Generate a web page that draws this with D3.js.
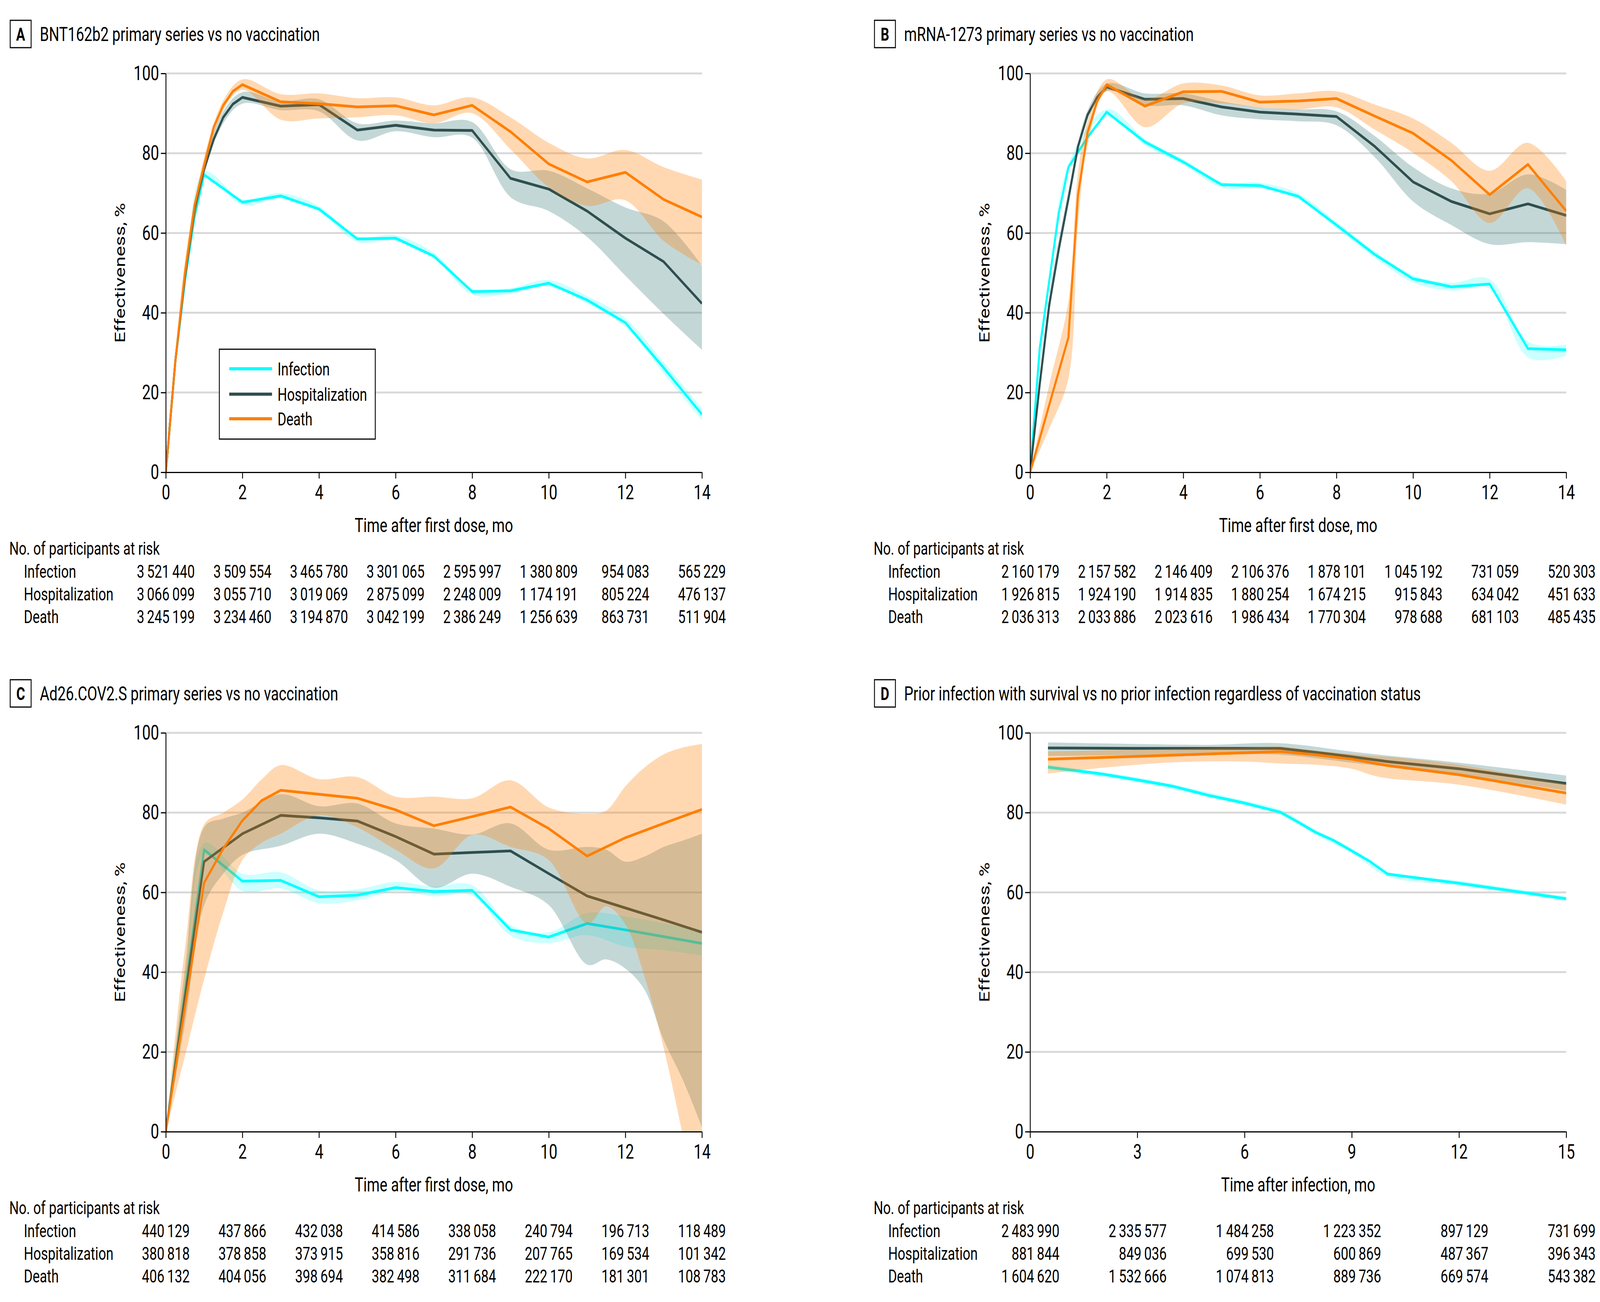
<!DOCTYPE html>
<html>
<head>
<meta charset="utf-8">
<script src="https://cdn.jsdelivr.net/npm/d3@7"></script>
<style>
html, body { margin: 0; padding: 0; background: #fff; overflow: hidden; }
#chart { display: block; width: 100vw; height: 100vh; }
svg text { font-family: Roboto, "Liberation Sans", sans-serif; fill: #000; }
</style>
</head>
<body>
<svg id="chart" viewBox="0 0 5500 3333" preserveAspectRatio="none"></svg>
<script>
// ---- data: lines are [month, estimate], bands are [month, lower, upper] ----
const seriesNames = ["Infection", "Hospitalization", "Death"];
const yTicks = [0, 20, 40, 60, 80, 100];

// A  BNT162b2
const aInfLine = [[0,0],[0.25,28],[0.5,48],[0.75,64],[1,74.6],[2,67.7],[3,69.3],[4,66],[5,58.5],[6,58.7],[7,54.2],[8,45.3],[9,45.5],[10,47.4],[11,43.2],[12,37.5],[13,26.2],[14,14.5]];
const aInfBand = [[0,0,0],[0.5,47,49],[1,74,75.3],[2,67,68.4],[3,68.6,70],[4,65.3,66.7],[5,57.8,59.2],[6,58,59.4],[7,53.5,55],[8,44.6,46],[9,44.8,46.2],[10,46.6,48.2],[11,42.3,44.2],[12,36.4,38.6],[13,24.8,27.6],[14,13,16]];
const aHospLine = [[0,0],[0.25,28],[0.5,49],[0.75,66],[1,76],[1.25,83.5],[1.5,89],[1.75,92.3],[2,94],[3,91.8],[4,92.2],[5,85.8],[6,87],[7,85.8],[8,85.7],[9,73.7],[10,71],[11,65.5],[12,58.7],[13,52.8],[14,42.3]];
const aHospBand = [[0,0,0],[0.5,47,51],[1,74.5,77.5],[1.5,87.5,90.5],[2,92.4,95.3],[3,90.8,93],[4,90.5,93.5],[5,83.2,87.5],[6,85.5,88.2],[7,84,87.5],[8,83.9,87.8],[9,69,76],[10,65.5,75.6],[11,59,71.2],[12,49.3,66.4],[13,39.7,62.9],[14,30.7,51.8]];
const aDeathLine = [[0,0],[0.25,28],[0.5,50],[0.75,67],[1,77],[1.25,86.5],[1.5,92],[1.75,95.5],[2,97.2],[3,92.9],[4,92.4],[5,91.6],[6,91.9],[7,89.6],[8,92],[9,85.4],[10,77.3],[11,72.8],[12,75.2],[13,68.4],[14,64]];
const aDeathBand = [[0,0,0],[0.5,47,53],[1,75,79],[1.5,90.8,93.2],[2,95.9,98.5],[3,88.4,94.8],[4,88.7,95],[5,89,93.8],[6,89.5,94],[7,87.5,92],[8,90,94],[9,81,89],[10,71.5,82.6],[11,66.8,78.7],[12,68.2,80.8],[13,58,76.5],[14,52,73.4]];

// B  mRNA-1273
const bInfLine = [[0,0],[0.25,31],[0.5,48],[0.75,65],[1,76.5],[1.5,84],[2,90.3],[3,82.8],[4,77.8],[5,72.1],[6,71.9],[7,69.2],[8,62],[9,54.6],[10,48.5],[11,46.5],[12,47.2],[13,31],[14,30.7]];
const bInfBand = [[0,0,0],[0.5,47,49],[1,75.8,77.2],[2,89.6,91],[3,82,83.6],[4,77.1,78.5],[5,71.4,72.8],[6,71.2,72.6],[7,68.5,69.9],[8,61.2,62.8],[9,53.8,55.4],[10,47.6,49.4],[11,45.5,47.5],[12,46,48.4],[13,28.8,32.8],[14,29.2,32]];
const bHospLine = [[0,0],[0.25,22],[0.5,42],[0.75,56],[1,68.6],[1.25,81.7],[1.5,89.6],[1.75,94],[2,96.6],[3,93.5],[4,93.7],[5,91.6],[6,90.3],[7,89.8],[8,89.2],[9,81.7],[10,72.8],[11,67.9],[12,64.8],[13,67.3],[14,64.4]];
const bHospBand = [[0,0,0],[0.5,40,44],[1,67,70.2],[1.5,88.5,90.7],[2,95.6,97.4],[3,92,95],[4,92,95],[5,89.5,93],[6,88.5,91.5],[7,88,91],[8,87,90.5],[9,79,84.3],[10,67.9,76.5],[11,62,71.2],[12,57.2,69.9],[13,57.7,74.7],[14,57.2,70.8]];
const bDeathLine = [[0,0],[1,33.8],[1.25,69.5],[1.5,85.2],[1.75,93],[2,97.2],[3,91.8],[4,95.4],[5,95.5],[6,92.8],[7,93.1],[8,93.7],[9,89.3],[10,85],[11,78.2],[12,69.6],[13,77.2],[14,65.5]];
const bDeathBand = [[0,0,0],[0.5,11,22],[1,23.5,43],[1.25,62,75],[1.5,82,88],[2,95.5,98.5],[3,86.5,93.5],[4,92.5,97.5],[5,92.5,97],[6,91.5,94.5],[7,91,95],[8,91.5,95.5],[9,85.9,92.2],[10,80.1,88.7],[11,73,82.6],[12,62.5,75.6],[13,71.2,82.6],[14,56.8,73]];

// C  Ad26.COV2.S
const cInfLine = [[0,0],[0.5,35.4],[1,70.7],[2,62.8],[3,63],[4,58.9],[5,59.3],[6,61.2],[7,60.2],[8,60.5],[9,50.6],[10,48.8],[11,52.2],[12,50.6],[13,48.9],[14,47.2]];
const cInfBand = [[0,0,0],[0.5,34.2,36.8],[1,69.4,72.3],[2,60.4,64.7],[3,61,65],[4,57.3,60.5],[5,58,60.8],[6,60.3,62.6],[7,59,61.5],[8,59.2,61.8],[9,49.2,51.8],[10,47.3,50],[11,49.3,54.8],[12,46.4,54],[13,45.5,52.2],[14,44.2,50.3]];
const cHospLine = [[0,0],[1,67.7],[2,74.7],[3,79.3],[4,78.7],[5,77.9],[6,74],[7,69.6],[8,70],[9,70.4],[10,64.7],[11,59.1],[12,56.1],[13,53.1],[14,50]];
const cHospBand = [[0,0,0],[0.5,27,41],[1,56.8,76.3],[1.5,64.7,78.5],[2,69.4,80],[3,71.7,84.6],[4,74.7,81.6],[5,72.2,82.3],[6,68.1,77.3],[7,61.2,76],[8,64.7,74.5],[9,61.4,77.3],[10,56.8,70.7],[11,41.9,71.4],[11.5,43.2,70.7],[12,40.9,67.7],[12.5,35.6,69],[13,23,71.4],[13.5,13,73],[14,1.1,74.7]];
const cDeathLine = [[0,0],[1,62.4],[1.5,71],[2,78],[2.5,83],[3,85.6],[4,84.6],[5,83.6],[6,80.7],[7,76.7],[8,79],[9,81.4],[10,76],[11,69.1],[12,73.7],[13,77.3],[14,80.8]];
const cDeathBand = [[0,0,0],[0.5,19,46],[1,38.2,77],[1.5,55,80],[2,68.1,83.3],[2.5,72.4,88.3],[3,74.7,91.9],[4,79.3,88.4],[5,76.3,88.9],[6,70.7,84],[7,66,84],[8,74.4,83.6],[9,71.4,88.1],[10,68.1,81.3],[11,52.2,79.7],[11.5,56.5,80.5],[12,52,86.6],[12.5,38.9,91.3],[13,21,94.6],[13.5,-1,96.3],[14,-25,97.2]];

// D  Prior infection
const dInfLine = [[0.5,91.4],[2,89.7],[3,88.2],[4,86.6],[5,84.3],[6,82.4],[7,80.1],[7.5,77.6],[8,75],[8.5,73],[9,70.4],[9.5,67.8],[10,64.6],[12,62.3],[15,58.4]];
const dInfBand = [[0.5,90.8,92],[3,87.6,88.8],[6,81.8,83],[7,79.5,80.7],[8,74.4,75.6],[9,69.8,71],[10,64,65.2],[12,61.7,62.9],[15,57.8,59]];
const dHospLine = [[0.5,96.2],[3,96.1],[5,96.1],[7,96.1],[8,95.1],[9,94],[10,92.8],[12,91],[15,87.3]];
const dHospBand = [[0.5,94.2,97.6],[3,94.4,97.2],[5,94.5,97],[7,94.5,97.4],[9,92.5,95.3],[10,91.5,94.3],[12,89.5,92.5],[15,85.5,89.3]];
const dDeathLine = [[0.5,93.4],[3,94.1],[5,94.7],[7,95.3],[8,94.5],[9,93.4],[10,91.8],[12,89.5],[15,84.9]];
const dDeathBand = [[0.5,89.8,95.3],[2,91.2,95.6],[4,92.6,96],[6,92.8,96.3],[7,92.3,96.5],[8,92,95.5],[9,91,94.7],[9.6,89.3,94.2],[10,88.6,94],[12,87,92],[15,82,87.2]];

// numbers at risk
const aRiskMonths = [0, 2, 4, 6, 8, 10, 12, 14];
const aRiskInf = [3521440, 3509554, 3465780, 3301065, 2595997, 1380809, 954083, 565229];
const aRiskHosp = [3066099, 3055710, 3019069, 2875099, 2248009, 1174191, 805224, 476137];
const aRiskDeath = [3245199, 3234460, 3194870, 3042199, 2386249, 1256639, 863731, 511904];
const bRiskInf = [2160179, 2157582, 2146409, 2106376, 1878101, 1045192, 731059, 520303];
const bRiskHosp = [1926815, 1924190, 1914835, 1880254, 1674215, 915843, 634042, 451633];
const bRiskDeath = [2036313, 2033886, 2023616, 1986434, 1770304, 978688, 681103, 485435];
const cRiskInf = [440129, 437866, 432038, 414586, 338058, 240794, 196713, 118489];
const cRiskHosp = [380818, 378858, 373915, 358816, 291736, 207765, 169534, 101342];
const cRiskDeath = [406132, 404056, 398694, 382498, 311684, 222170, 181301, 108783];
const dRiskMonths = [0, 3, 6, 9, 12, 15];
const dRiskInf = [2483990, 2335577, 1484258, 1223352, 897129, 731699];
const dRiskHosp = [881844, 849036, 699530, 600869, 487367, 396343];
const dRiskDeath = [1604620, 1532666, 1074813, 889736, 669574, 543382];

const lineColors = ["#00ffff", "#2f4f4f", "#ff7f00"];
const bandColors = ["#00ffff", "#3d7a7c", "#ff7f00"];
const bandOpacity = [0.2, 0.3, 0.3];

const svg = d3.select("#chart");
const fmt = n => d3.format(",")(n).replace(/,/g, "\u2009");

function drawPanel(p) {
  const g = svg.append("g").attr("transform", `translate(${p.dx},${p.dy})`);
  const x = d3.scaleLinear().domain([0, p.xmax]).range([570, 2413]);
  const y = d3.scaleLinear().domain([0, 100]).range([1209, 188]);

  // letter box and title
  g.append("rect").attr("x", 35).attr("y", 52).attr("width", 72).attr("height", 70)
    .attr("fill", "none").attr("stroke", "#000").attr("stroke-width", 3);
  g.append("text").attr("x", 71).attr("y", 104).attr("text-anchor", "middle")
    .attr("font-size", 46).attr("font-weight", 700).text(p.letter);
  g.append("text").attr("x", 137).attr("y", 105).attr("font-size", 50).text(p.title);

  // grid
  g.append("g").selectAll("line").data(yTicks.filter(d => d > 0)).join("line")
    .attr("x1", x(0)).attr("x2", x(p.xmax))
    .attr("y1", d => y(d)).attr("y2", d => y(d))
    .attr("stroke", "#d9d9d9").attr("stroke-width", 5);

  const clipId = "clip" + p.letter;
  g.append("clipPath").attr("id", clipId).append("rect")
    .attr("x", x(0)).attr("y", y(100) - 10)
    .attr("width", x(p.xmax) - x(0)).attr("height", y(0) - y(100) + 10);

  const area = d3.area().x(d => x(d[0])).y0(d => y(d[1])).y1(d => y(d[2]))
    .curve(d3.curveCatmullRom);
  const line = d3.line().x(d => x(d[0])).y(d => y(d[1]));

  const plot = g.append("g").attr("clip-path", `url(#${clipId})`);
  p.bands.forEach((b, i) => {
    plot.append("path").datum(b).attr("d", area)
      .attr("fill", bandColors[i]).attr("fill-opacity", bandOpacity[i]);
    plot.append("path").datum(p.lines[i]).attr("d", line)
      .attr("fill", "none").attr("stroke", lineColors[i])
      .attr("stroke-width", 7).attr("stroke-linejoin", "round");
  });

  // axes
  const yAxis = g.append("g").attr("transform", `translate(${x(0)},0)`)
    .call(d3.axisLeft(y).tickValues(yTicks).tickSize(17).tickSizeOuter(0).tickPadding(6));
  const xAxis = g.append("g").attr("transform", `translate(0,${y(0)})`)
    .call(d3.axisBottom(x).tickValues(p.xticks).tickSize(16).tickSizeOuter(0).tickPadding(16));
  [yAxis, xAxis].forEach(a => {
    a.attr("font-size", 52);
    a.select(".domain").attr("stroke", "#000").attr("stroke-width", 3);
    a.selectAll(".tick line").attr("stroke", "#000").attr("stroke-width", 3);
  });

  g.append("text").attr("x", (x(0) + x(p.xmax)) / 2).attr("y", 1362)
    .attr("text-anchor", "middle").attr("font-size", 50).text(p.xTitle);
  g.append("text").attr("transform", `translate(430,${(y(0) + y(100)) / 2}) rotate(-90)`)
    .attr("text-anchor", "middle").attr("font-size", 50).text("Effectiveness, %");

  // numbers at risk
  g.append("text").attr("x", 32).attr("y", 1420).attr("font-size", 46)
    .text("No. of participants at risk");
  const rowY = [1479, 1537, 1595];
  p.risk.forEach((row, i) => {
    g.append("text").attr("x", 82).attr("y", rowY[i]).attr("font-size", 46).text(seriesNames[i]);
    g.append("g").selectAll("text").data(row).join("text")
      .attr("x", (d, j) => x(p.riskMonths[j]) + (p.alignEnd ? 101 : 0))
      .attr("y", rowY[i]).attr("font-size", 46)
      .attr("text-anchor", p.alignEnd ? "end" : "middle")
      .text(d => fmt(d));
  });

  if (p.legend) {
    const lg = g.append("g");
    lg.append("rect").attr("x", 754).attr("y", 894).attr("width", 536).attr("height", 230)
      .attr("fill", "#fff").attr("stroke", "#000").attr("stroke-width", 3);
    const ly = [944, 1009, 1072];
    seriesNames.forEach((n, i) => {
      lg.append("line").attr("x1", 788).attr("x2", 935).attr("y1", ly[i]).attr("y2", ly[i])
        .attr("stroke", lineColors[i]).attr("stroke-width", 8);
      lg.append("text").attr("x", 954).attr("y", ly[i] + 17).attr("font-size", 46).text(n);
    });
  }
}

const monthTicks = [0, 2, 4, 6, 8, 10, 12, 14];

drawPanel({
  letter: "A", dx: 0, dy: 0, xmax: 14, xticks: monthTicks,
  title: "BNT162b2 primary series vs no vaccination", xTitle: "Time after first dose, mo",
  lines: [aInfLine, aHospLine, aDeathLine], bands: [aInfBand, aHospBand, aDeathBand],
  riskMonths: aRiskMonths, risk: [aRiskInf, aRiskHosp, aRiskDeath], alignEnd: false, legend: true
});
drawPanel({
  letter: "B", dx: 2971, dy: 0, xmax: 14, xticks: monthTicks,
  title: "mRNA-1273 primary series vs no vaccination", xTitle: "Time after first dose, mo",
  lines: [bInfLine, bHospLine, bDeathLine], bands: [bInfBand, bHospBand, bDeathBand],
  riskMonths: aRiskMonths, risk: [bRiskInf, bRiskHosp, bRiskDeath], alignEnd: true
});
drawPanel({
  letter: "C", dx: 0, dy: 1688, xmax: 14, xticks: monthTicks,
  title: "Ad26.COV2.S primary series vs no vaccination", xTitle: "Time after first dose, mo",
  lines: [cInfLine, cHospLine, cDeathLine], bands: [cInfBand, cHospBand, cDeathBand],
  riskMonths: aRiskMonths, risk: [cRiskInf, cRiskHosp, cRiskDeath], alignEnd: false
});
drawPanel({
  letter: "D", dx: 2971, dy: 1688, xmax: 15, xticks: dRiskMonths,
  title: "Prior infection with survival vs no prior infection regardless of vaccination status",
  xTitle: "Time after infection, mo",
  lines: [dInfLine, dHospLine, dDeathLine], bands: [dInfBand, dHospBand, dDeathBand],
  riskMonths: dRiskMonths, risk: [dRiskInf, dRiskHosp, dRiskDeath], alignEnd: true
});
</script>
</body>
</html>
